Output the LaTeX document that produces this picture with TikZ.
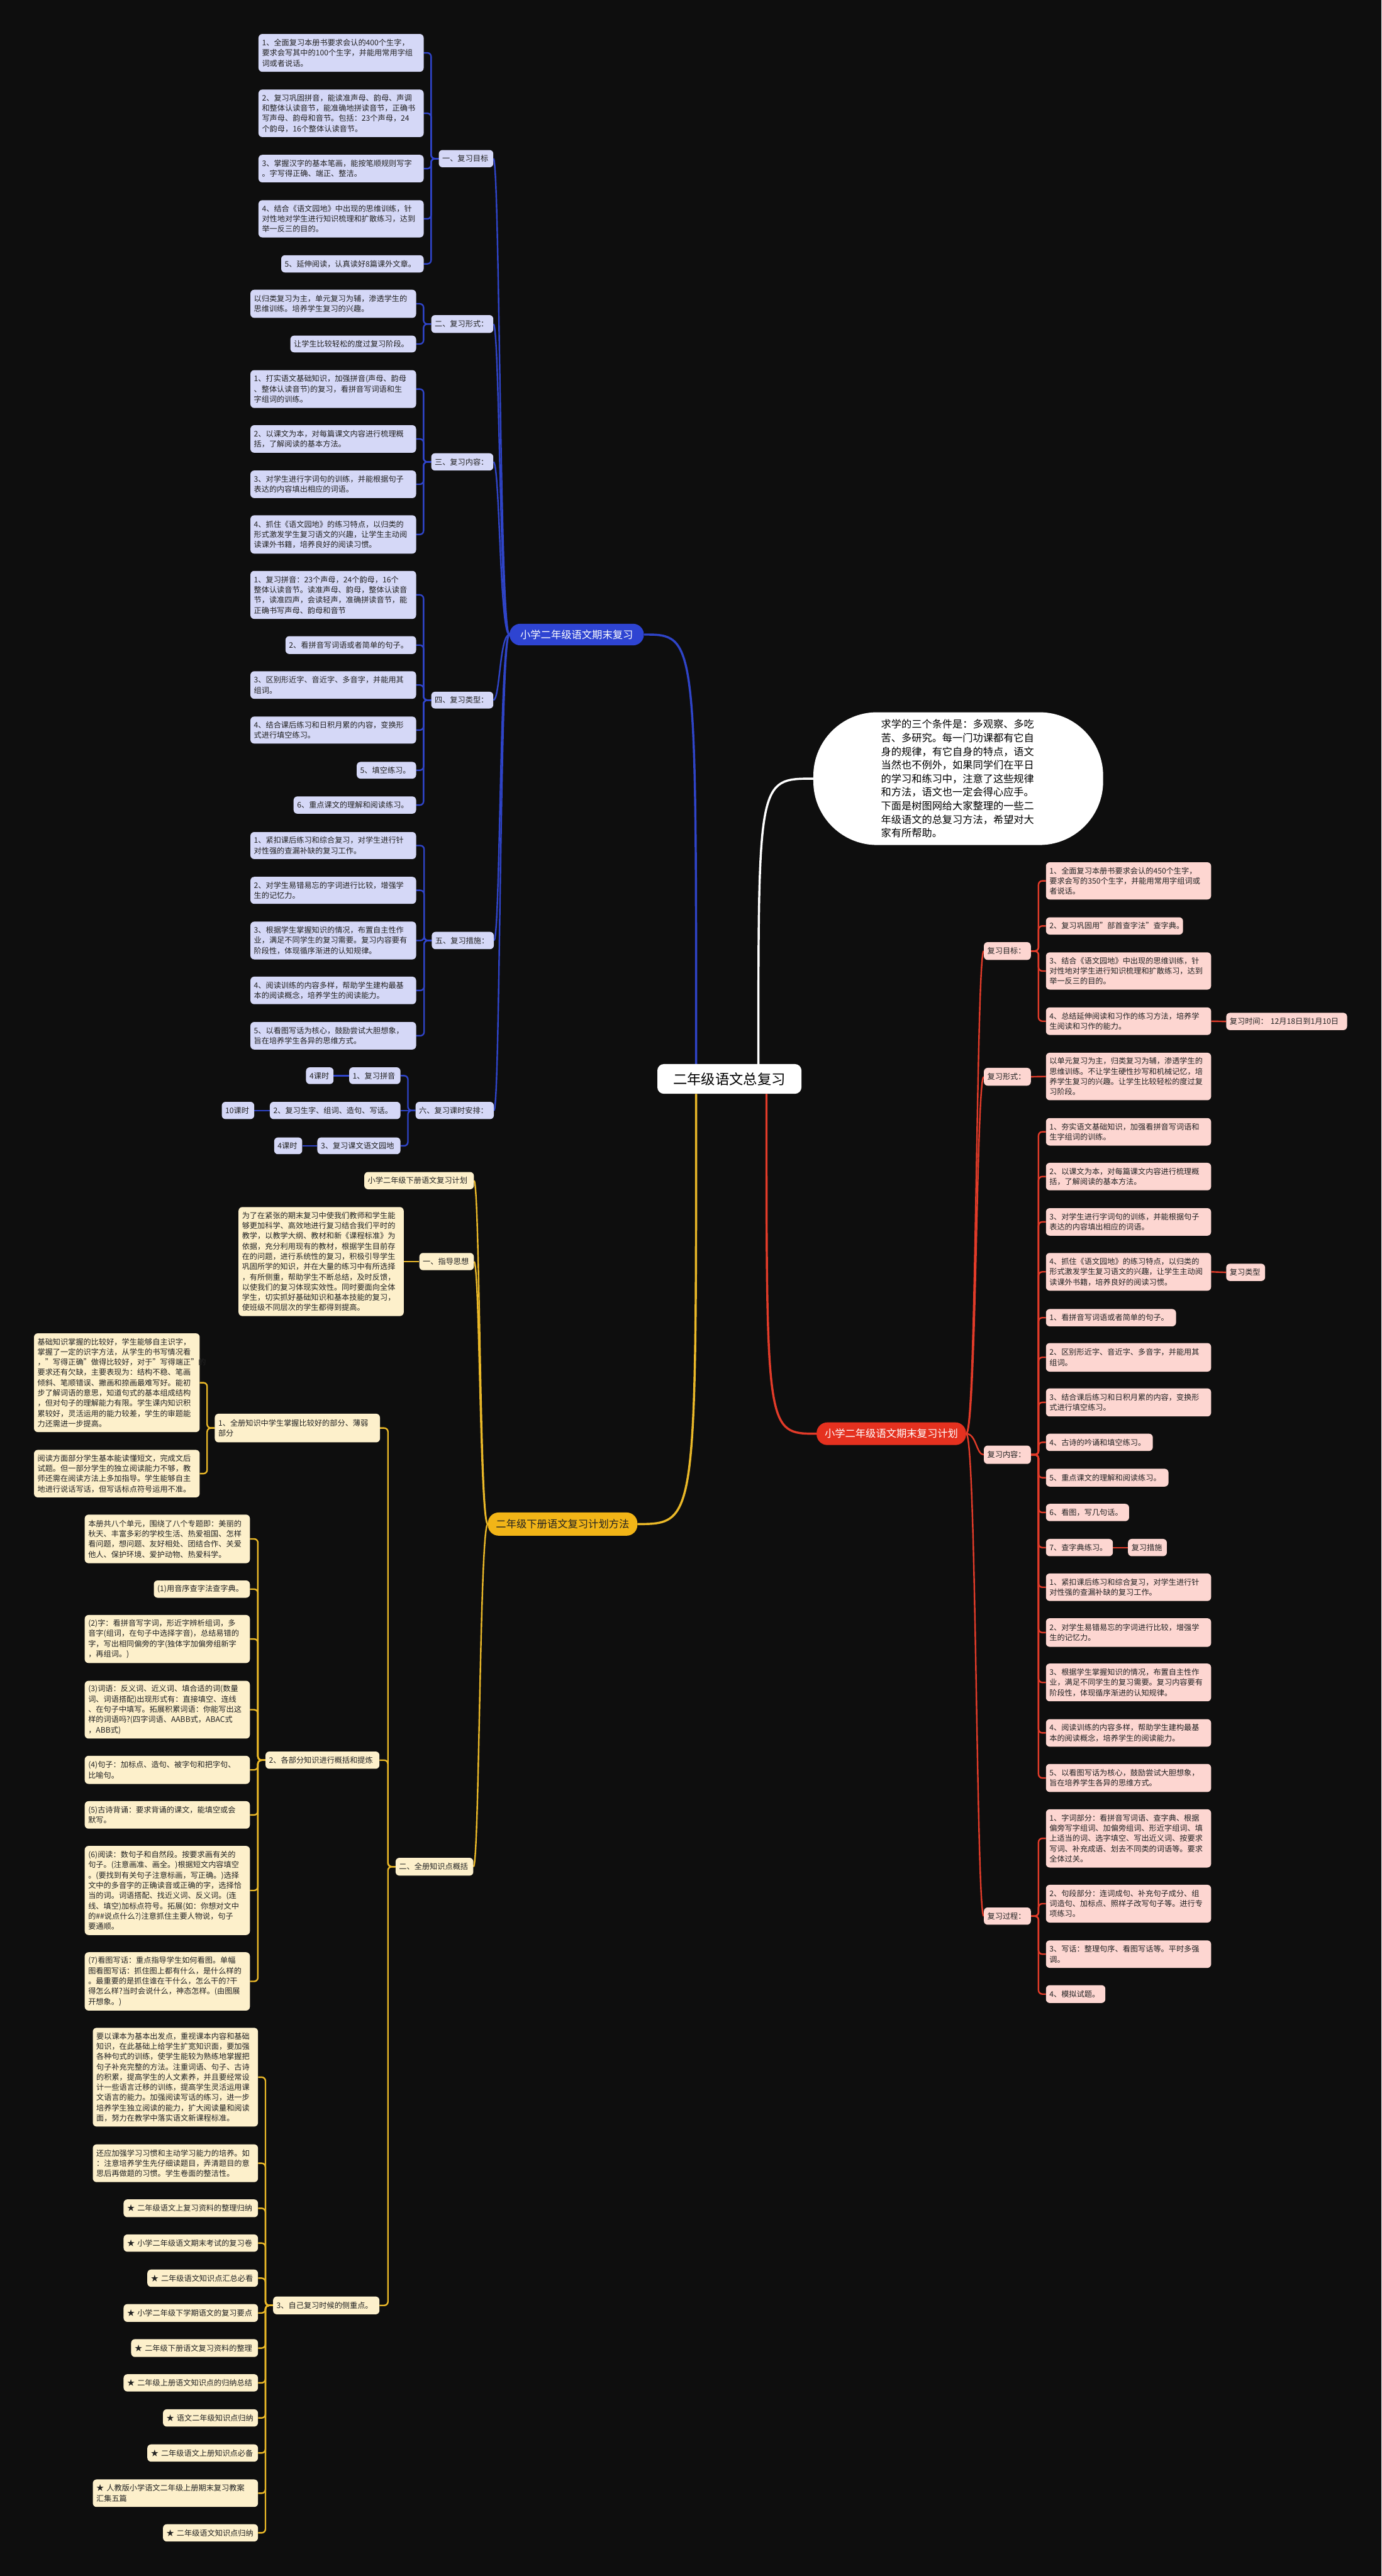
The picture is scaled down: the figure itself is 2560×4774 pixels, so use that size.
\documentclass[tikz,border=0pt]{standalone}
\usepackage{fontspec}
\setmainfont{Noto Sans CJK SC}
\usetikzlibrary{backgrounds}
\definecolor{bgc}{HTML}{0E0E0E}
\definecolor{bfill}{HTML}{D5D8F7}
\definecolor{bline}{HTML}{2F44C8}
\definecolor{bmainc}{HTML}{2E44D2}
\definecolor{rfill}{HTML}{FDD6D1}
\definecolor{rline}{HTML}{E23B29}
\definecolor{rmainc}{HTML}{E5311F}
\definecolor{yfill}{HTML}{FDF0CB}
\definecolor{yline}{HTML}{EAB828}
\definecolor{ymainc}{HTML}{F2B517}
\definecolor{txt}{HTML}{222222}
\tikzset{
  boxbase/.style={rounded corners=7pt, inner xsep=6.5pt, inner ysep=1pt, align=left, text=txt, font=\fontsize{14.2}{19}\selectfont},
  bleaf/.style={boxbase, fill=bfill},
  rleaf/.style={boxbase, fill=rfill},
  yleaf/.style={boxbase, fill=yfill},
  mainbox/.style={rounded corners=20pt, inner xsep=6.5pt, inner ysep=1pt, align=center, font=\fontsize{19}{23}\selectfont},
  cnode/.style={fill=white, text=black, rounded corners=12pt, inner xsep=6.5pt, align=center, font=\fontsize{26}{30}\selectfont},
  introst/.style={fill=white, text=black, rounded corners=118pt, align=left, inner sep=0pt, font=\fontsize{18.9}{25.2}\selectfont},
  bl/.style={draw=bline, line width=2.8pt, rounded corners=7pt},
  rl/.style={draw=rline, line width=2.8pt, rounded corners=7pt},
  yl/.style={draw=yline, line width=2.8pt, rounded corners=7pt},
  cbl/.style={draw=bline, line width=4pt},
  crl/.style={draw=rline, line width=4pt},
  cyl/.style={draw=yline, line width=4pt},
  cwl/.style={draw=white, line width=4pt},
}
\newcommand\nbx[7]{%
  \pgfmathsetmacro\bxw{#5-#3}%
  \pgfmathsetmacro\bxh{#6-#4}%
  \pgfmathsetmacro\bxt{#5-#3-13}%
  \node[#2, minimum width=\bxw pt, minimum height=\bxh pt, text width=\bxt pt] (#1) at ({(#3+#5)/2},{(#4+#6)/2}) {#7};}
\newcommand\lbrk[3]{\foreach \chn in {#3}{\draw[#1] (#2.west) -- ++(-14,0) |- (\chn.east);}}
\newcommand\rbrk[3]{\foreach \chn in {#3}{\draw[#1] (#2.east) -- ++(14,0) |- (\chn.west);}}
\begin{document}
\begin{tikzpicture}[x=1pt,y=-1pt]
\useasboundingbox (0,0) rectangle (2560,4774);
% ---------- centre ----------
\nbx{cn}{cnode}{1218}{1972}{1485}{2027}{二年级语文总复习}
\node[introst, minimum width=537pt, minimum height=246pt, text width=286pt] (intro) at (1775.5,1443) {求学的三个条件是：多观察、多吃\\苦、多研究。每一门功课都有它自\\身的规律，有它自身的特点，语文\\当然也不例外，如果同学们在平日\\的学习和练习中，注意了这些规律\\和方法，语文也一定会得心应手。\\下面是树图网给大家整理的一些二\\年级语文的总复习方法，希望对大\\家有所帮助。};
\nbx{bmain}{mainbox, fill=bmainc, text=white}{944}{1156}{1193}{1196}{小学二年级语文期末复习}
\nbx{rmain}{mainbox, fill=rmainc, text=white}{1513}{2636}{1790}{2678}{小学二年级语文期末复习计划}
\nbx{ymain}{mainbox, fill=ymainc, text=txt}{904}{2803}{1181}{2846}{二年级下册语文复习计划方法}
% ---------- blue ----------
\nbx{bA}{bleaf}{813}{278}{914}{310}{一、复习目标}
\nbx{b1}{bleaf}{479}{63}{785}{133}{1、全面复习本册书要求会认的400个生字，\\要求会写其中的100个生字，并能用常用字组\\词或者说话。}
\nbx{b2}{bleaf}{479}{166}{785}{254}{2、复习巩固拼音，能读准声母、韵母、声调\\和整体认读音节，能准确地拼读音节，正确书\\写声母、韵母和音节。包括：23个声母，24\\个韵母，16个整体认读音节。}
\nbx{b3}{bleaf}{479}{287}{785}{338}{3、掌握汉字的基本笔画，能按笔顺规则写字\\。字写得正确、端正、整洁。}
\nbx{b4}{bleaf}{479}{371}{785}{440}{4、结合《语文园地》中出现的思维训练，针\\对性地对学生进行知识梳理和扩散练习，达到\\举一反三的目的。}
\nbx{b5}{bleaf}{521}{473}{785}{505}{5、延伸阅读，认真读好8篇课外文章。}
\nbx{bB}{bleaf}{799}{584}{914}{617}{二、复习形式：}
\nbx{b6}{bleaf}{464}{537}{771}{589}{以归类复习为主，单元复习为辅，渗透学生的\\思维训练。培养学生复习的兴趣。}
\nbx{b7}{bleaf}{538}{622}{771}{653}{让学生比较轻松的度过复习阶段。}
\nbx{bC}{bleaf}{799}{840}{914}{872}{三、复习内容：}
\nbx{b8}{bleaf}{464}{686}{771}{756}{1、打实语文基础知识，加强拼音(声母、韵母\\、整体认读音节)的复习，看拼音写词语和生\\字组词的训练。}
\nbx{b9}{bleaf}{464}{788}{771}{839}{2、以课文为本，对每篇课文内容进行梳理概\\括，了解阅读的基本方法。}
\nbx{b10}{bleaf}{464}{872}{771}{923}{3、对学生进行字词句的训练，并能根据句子\\表达的内容填出相应的词语。}
\nbx{b11}{bleaf}{464}{955}{771}{1026}{4、抓住《语文园地》的练习特点，以归类的\\形式激发学生复习语文的兴趣，让学生主动阅\\读课外书籍，培养良好的阅读习惯。}
\nbx{bD}{bleaf}{799}{1282}{914}{1313}{四、复习类型：}
\nbx{b12}{bleaf}{464}{1058}{771}{1147}{1、复习拼音：23个声母，24个韵母，16个\\整体认读音节。读准声母、韵母，整体认读音\\节，读准四声，会读轻声，准确拼读音节，能\\正确书写声母、韵母和音节}
\nbx{b13}{bleaf}{529}{1179}{771}{1212}{2、看拼音写词语或者简单的句子。}
\nbx{b14}{bleaf}{464}{1244}{771}{1295}{3、区别形近字、音近字、多音字，并能用其\\组词。}
\nbx{b15}{bleaf}{464}{1328}{771}{1378}{4、结合课后练习和日积月累的内容，变换形\\式进行填空练习。}
\nbx{b16}{bleaf}{661}{1412}{771}{1443}{5、填空练习。}
\nbx{b17}{bleaf}{544}{1476}{771}{1508}{6、重点课文的理解和阅读练习。}
\nbx{bE}{bleaf}{800}{1727}{915}{1759}{五、复习措施：}
\nbx{b18}{bleaf}{464}{1542}{771}{1592}{1、紧扣课后练习和综合复习，对学生进行针\\对性强的查漏补缺的复习工作。}
\nbx{b19}{bleaf}{464}{1625}{771}{1675}{2、对学生易错易忘的字词进行比较，增强学\\生的记忆力。}
\nbx{b20}{bleaf}{464}{1708}{771}{1778}{3、根据学生掌握知识的情况，布置自主性作\\业，满足不同学生的复习需要。复习内容要有\\阶段性，体现循序渐进的认知规律。}
\nbx{b21}{bleaf}{464}{1810}{771}{1861}{4、阅读训练的内容多样，帮助学生建构最基\\本的阅读概念，培养学生的阅读能力。}
\nbx{b22}{bleaf}{464}{1894}{771}{1945}{5、以看图写话为核心，鼓励尝试大胆想象，\\旨在培养学生各异的思维方式。}
\nbx{bF}{bleaf}{770}{2042}{915}{2074}{六、复习课时安排：}
\nbx{b23}{bleaf}{647}{1978}{742}{2009}{1、复习拼音}
\nbx{b23a}{bleaf}{567}{1978}{618}{2009}{4课时}
\nbx{b24}{bleaf}{500}{2042}{742}{2074}{2、复习生字、组词、造句、写话。}
\nbx{b24a}{bleaf}{411}{2042}{471}{2074}{10课时}
\nbx{b25}{bleaf}{588}{2108}{742}{2139}{3、复习课文语文园地}
\nbx{b25a}{bleaf}{508}{2108}{560}{2139}{4课时}
% ---------- red ----------
\nbx{rA}{rleaf}{1823}{1746}{1910}{1779}{复习目标：}
\nbx{r1}{rleaf}{1938}{1598}{2244}{1667}{1、全面复习本册书要求会认的450个生字，\\要求会写的350个生字，并能用常用字组词或\\者说话。}
\nbx{r2}{rleaf}{1938}{1700}{2192}{1732}{2、复习巩固用"部首查字法"查字典。}
\nbx{r3}{rleaf}{1938}{1765}{2244}{1834}{3、结合《语文园地》中出现的思维训练，针\\对性地对学生进行知识梳理和扩散练习，达到\\举一反三的目的。}
\nbx{r4}{rleaf}{1938}{1867}{2244}{1918}{4、总结延伸阅读和习作的练习方法，培养学\\生阅读和习作的能力。}
\nbx{r4a}{rleaf}{2272}{1877}{2496}{1909}{复习时间：~12月18日到1月10日}
\nbx{rB}{rleaf}{1823}{1979}{1910}{2012}{复习形式：}
\nbx{r5}{rleaf}{1938}{1951}{2244}{2039}{以单元复习为主，归类复习为辅，渗透学生的\\思维训练。不让学生硬性抄写和机械记忆，培\\养学生复习的兴趣。让学生比较轻松的度过复\\习阶段。}
\nbx{rC}{rleaf}{1823}{2679}{1910}{2713}{复习内容：}
\nbx{r6}{rleaf}{1938}{2072}{2244}{2123}{1、夯实语文基础知识，加强看拼音写词语和\\生字组词的训练。}
\nbx{r7}{rleaf}{1938}{2155}{2244}{2206}{2、以课文为本，对每篇课文内容进行梳理概\\括，了解阅读的基本方法。}
\nbx{r8}{rleaf}{1938}{2239}{2244}{2290}{3、对学生进行字词句的训练，并能根据句子\\表达的内容填出相应的词语。}
\nbx{r9}{rleaf}{1938}{2322}{2244}{2392}{4、抓住《语文园地》的练习特点，以归类的\\形式激发学生复习语文的兴趣，让学生主动阅\\读课外书籍，培养良好的阅读习惯。}
\nbx{r9a}{rleaf}{2272}{2342}{2344}{2374}{复习类型}
\nbx{r10}{rleaf}{1938}{2426}{2179}{2458}{1、看拼音写词语或者简单的句子。}
\nbx{r11}{rleaf}{1938}{2489}{2244}{2542}{2、区别形近字、音近字、多音字，并能用其\\组词。}
\nbx{r12}{rleaf}{1938}{2573}{2244}{2625}{3、结合课后练习和日积月累的内容，变换形\\式进行填空练习。}
\nbx{r13}{rleaf}{1938}{2657}{2136}{2689}{4、古诗的吟诵和填空练习。}
\nbx{r14}{rleaf}{1938}{2722}{2165}{2755}{5、重点课文的理解和阅读练习。}
\nbx{r15}{rleaf}{1938}{2787}{2092}{2819}{6、看图，写几句话。}
\nbx{r16}{rleaf}{1938}{2852}{2062}{2884}{7、查字典练习。}
\nbx{r16a}{rleaf}{2090}{2852}{2162}{2884}{复习措施}
\nbx{r17}{rleaf}{1938}{2916}{2244}{2967}{1、紧扣课后练习和综合复习，对学生进行针\\对性强的查漏补缺的复习工作。}
\nbx{r18}{rleaf}{1938}{2999}{2244}{3052}{2、对学生易错易忘的字词进行比较，增强学\\生的记忆力。}
\nbx{r19}{rleaf}{1938}{3083}{2244}{3153}{3、根据学生掌握知识的情况，布置自主性作\\业，满足不同学生的复习需要。复习内容要有\\阶段性，体现循序渐进的认知规律。}
\nbx{r20}{rleaf}{1938}{3186}{2244}{3237}{4、阅读训练的内容多样，帮助学生建构最基\\本的阅读概念，培养学生的阅读能力。}
\nbx{r21}{rleaf}{1938}{3269}{2244}{3321}{5、以看图写话为核心，鼓励尝试大胆想象，\\旨在培养学生各异的思维方式。}
\nbx{rD}{rleaf}{1823}{3535}{1910}{3567}{复习过程：}
\nbx{r22}{rleaf}{1938}{3353}{2244}{3461}{1、字词部分：看拼音写词语、查字典、根据\\偏旁写字组词、加偏旁组词、形近字组词、填\\上适当的词、选字填空、写出近义词、按要求\\写词、补充成语、划去不同类的词语等。要求\\全体过关。}
\nbx{r23}{rleaf}{1938}{3493}{2244}{3563}{2、句段部分：连词成句、补充句子成分、组\\词造句、加标点、照样子改写句子等。进行专\\项练习。}
\nbx{r24}{rleaf}{1938}{3596}{2244}{3647}{3、写话：整理句序、看图写话等。平时多强\\调。}
\nbx{r25}{rleaf}{1938}{3679}{2048}{3712}{4、模拟试题。}
% ---------- yellow ----------
\nbx{yA}{yleaf}{675}{2172}{878}{2204}{小学二年级下册语文复习计划}
\nbx{yB}{yleaf}{777}{2322}{878}{2354}{一、指导思想}
\nbx{yB1}{yleaf}{442}{2237}{748}{2439}{为了在紧张的期末复习中使我们教师和学生能\\够更加科学、高效地进行复习结合我们平时的\\教学，以教学大纲、教材和新《课程标准》为\\依据，充分利用现有的教材，根据学生目前存\\在的问题，进行系统性的复习，积极引导学生\\巩固所学的知识，并在大量的练习中有所选择\\，有所侧重，帮助学生不断总结，及时反馈，\\以使我们的复习体现实效性。同时要面向全体\\学生，切实抓好基础知识和基本技能的复习，\\使班级不同层次的学生都得到提高。}
\nbx{yC}{yleaf}{733}{3443}{877}{3476}{二、全册知识点概括}
\nbx{yC1}{yleaf}{398}{2620}{704}{2673}{1、全册知识中学生掌握比较好的部分、薄弱\\部分}
\nbx{yC1a}{yleaf}{63}{2471}{370}{2654}{基础知识掌握的比较好，学生能够自主识字，\\掌握了一定的识字方法，从学生的书写情况看\\，"写得正确"做得比较好，对于"写得端正"的\\要求还有欠缺，主要表现为：结构不稳、笔画\\倾斜、笔顺错误、撇画和捺画最难写好。能初\\步了解词语的意思，知道句式的基本组成结构\\，但对句子的理解能力有限。学生课内知识积\\累较好，灵活运用的能力较差，学生的审题能\\力还需进一步提高。}
\nbx{yC1b}{yleaf}{63}{2687}{370}{2775}{阅读方面部分学生基本能读懂短文，完成文后\\试题。但一部分学生的独立阅读能力不够，教\\师还需在阅读方法上多加指导。学生能够自主\\地进行说话写话，但写话标点符号运用不准。}
\nbx{yC2}{yleaf}{492}{3246}{703}{3278}{2、各部分知识进行概括和提炼}
\nbx{c1}{yleaf}{157}{2807}{463}{2897}{本册共八个单元，围绕了八个专题即：美丽的\\秋天、丰富多彩的学校生活、热爱祖国、怎样\\看问题，想问题、友好相处、团结合作、关爱\\他人、保护环境、爱护动物、热爱科学。}
\nbx{c2}{yleaf}{285}{2929}{463}{2961}{(1)用音序查字法查字典。}
\nbx{c3}{yleaf}{157}{2993}{463}{3082}{(2)字：看拼音写字词，形近字辨析组词，多\\音字(组词，在句子中选择字音)，总结易错的\\字，写出相同偏旁的字(独体字加偏旁组新字\\，再组词。)}
\nbx{c4}{yleaf}{157}{3115}{463}{3222}{(3)词语：反义词、近义词、填合适的词(数量\\词、词语搭配)出现形式有：直接填空、连线\\、在句子中填写。拓展积累词语：你能写出这\\样的词语吗?(四字词语、AABB式，ABAC式\\，ABB式)}
\nbx{c5}{yleaf}{157}{3254}{463}{3306}{(4)句子：加标点、造句、被字句和把字句、\\比喻句。}
\nbx{c6}{yleaf}{157}{3338}{463}{3389}{(5)古诗背诵：要求背诵的课文，能填空或会\\默写。}
\nbx{c7}{yleaf}{157}{3421}{463}{3586}{(6)阅读：数句子和自然段。按要求画有关的\\句子。(注意画准、画全。)根据短文内容填空\\。(要找到有关句子注意标画，写正确。)选择\\文中的多音字的正确读音或正确的字，选择恰\\当的词。词语搭配、找近义词、反义词。(连\\线、填空)加标点符号。拓展(如：你想对文中\\的\#\#说点什么?)注意抓住主要人物说，句子\\要通顺。}
\nbx{c8}{yleaf}{157}{3618}{463}{3726}{(7)看图写话：重点指导学生如何看图。单幅\\图看图写话：抓住图上都有什么，是什么样的\\。最重要的是抓住谁在干什么，怎么干的?干\\得怎么样?当时会说什么，神态怎样。(由图展\\开想象。)}
\nbx{yC3}{yleaf}{506}{4256}{703}{4289}{3、自己复习时候的侧重点。}
\nbx{d1}{yleaf}{172}{3758}{478}{3941}{要以课本为基本出发点，重视课本内容和基础\\知识，在此基础上给学生扩宽知识面，要加强\\各种句式的训练，使学生能较为熟练地掌握把\\句子补充完整的方法。注重词语、句子、古诗\\的积累，提高学生的人文素养，并且要经常设\\计一些语言迁移的训练，提高学生灵活运用课\\文语言的能力。加强阅读写话的练习，进一步\\培养学生独立阅读的能力，扩大阅读量和阅读\\面，努力在教学中落实语文新课程标准。}
\nbx{d2}{yleaf}{172}{3974}{478}{4044}{还应加强学习习惯和主动学习能力的培养。如\\：注意培养学生先仔细读题目，弄清题目的意\\思后再做题的习惯。学生卷面的整洁性。}
\nbx{d3}{yleaf}{229}{4076}{478}{4109}{★~二年级语文上复习资料的整理归纳}
\nbx{d4}{yleaf}{229}{4141}{478}{4173}{★~小学二年级语文期末考试的复习卷}
\nbx{d5}{yleaf}{273}{4206}{478}{4238}{★~二年级语文知识点汇总必看}
\nbx{d6}{yleaf}{229}{4270}{478}{4303}{★~小学二年级下学期语文的复习要点}
\nbx{d7}{yleaf}{243}{4335}{478}{4368}{★~二年级下册语文复习资料的整理}
\nbx{d8}{yleaf}{229}{4400}{478}{4432}{★~二年级上册语文知识点的归纳总结}
\nbx{d9}{yleaf}{302}{4465}{478}{4497}{★~语文二年级知识点归纳}
\nbx{d10}{yleaf}{273}{4530}{478}{4562}{★~二年级语文上册知识点必备}
\nbx{d11}{yleaf}{172}{4595}{478}{4646}{★~人教版小学语文二年级上册期末复习教案\\汇集五篇}
\nbx{d12}{yleaf}{302}{4678}{478}{4710}{★~二年级语文知识点归纳}
% ---------- connectors ----------
\begin{scope}[on background layer]
\fill[bgc] (0,0) rectangle (2560,4774);
\draw[cwl] ([xshift=-80pt]cn.north east) .. controls (1405,1443) .. (intro.west);
\draw[cbl] ([xshift=72pt]cn.north west) .. controls (1290,1176) .. (bmain.east);
\draw[crl] ([xshift=-65pt]cn.south east) .. controls (1420,2657) .. (rmain.west);
\draw[cyl] ([xshift=72pt]cn.south west) .. controls (1290,2824) .. (ymain.east);
% blue
\foreach \lv in {bA,bB,bC,bD,bE,bF}{\draw[bl] (bmain.west) .. controls +(-18,0) and +(12,0) .. (\lv.east);}
\lbrk{bl}{bA}{b1,b2,b3,b4,b5}
\lbrk{bl}{bB}{b6,b7}
\lbrk{bl}{bC}{b8,b9,b10,b11}
\lbrk{bl}{bD}{b12,b13,b14,b15,b16,b17}
\lbrk{bl}{bE}{b18,b19,b20,b21,b22}
\lbrk{bl}{bF}{b23,b25}
\draw[bl] (bF.west) -- (b24.east);
\draw[bl] (b23.west) -- (b23a.east);
\draw[bl] (b24.west) -- (b24a.east);
\draw[bl] (b25.west) -- (b25a.east);
% red
\foreach \lv in {rA,rB,rC,rD}{\draw[rl] (rmain.east) .. controls +(19,0) and +(-14,0) .. (\lv.west);}
\rbrk{rl}{rA}{r1,r2,r3,r4}
\draw[rl] (r4.east) -- (r4a.west);
\draw[rl] (rB.east) -- (r5.west);
\rbrk{rl}{rC}{r6,r7,r8,r9,r10,r11,r12,r13,r14,r15,r16,r17,r18,r19,r20,r21}
\draw[rl] (r9.east) -- (r9a.west);
\draw[rl] (r16.east) -- (r16a.west);
\rbrk{rl}{rD}{r22,r23,r24,r25}
% yellow
\foreach \lv in {yA,yB,yC}{\draw[yl] (ymain.west) .. controls +(-15,0) and +(11,0) .. (\lv.east);}
\draw[yl] (yB.west) -- (yB1.east);
\lbrk{yl}{yC}{yC1,yC2,yC3}
\lbrk{yl}{yC1}{yC1a,yC1b}
\lbrk{yl}{yC2}{c1,c2,c3,c4,c5,c6,c7,c8}
\lbrk{yl}{yC3}{d1,d2,d3,d4,d5,d6,d7,d8,d9,d10,d11,d12}
\end{scope}
\end{tikzpicture}
\end{document}
